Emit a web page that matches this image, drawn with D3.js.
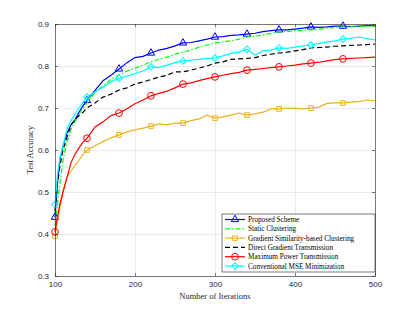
<!DOCTYPE html>
<html>
<head>
<meta charset="utf-8">
<script src="https://cdn.jsdelivr.net/npm/d3@7/dist/d3.min.js"></script>
<style>
  body { margin: 0; background: #fff; }
  .tick text { font-family: "Liberation Sans", Arial, sans-serif; font-size: 8px; fill: #262626; }
</style>
</head>
<body>
<div id="chart"></div>
<script>
const iterations = [100,103,106,110,115,120,125,130,135,140,150,160,170,180,190,200,210,220,230,240,250,260,270,280,290,300,310,320,330,340,350,360,370,380,390,400,410,420,430,440,450,460,470,480,490,500]

const proposed = [0.440,0.520,0.575,0.610,0.640,0.660,0.672,0.690,0.705,0.718,0.742,0.765,0.778,0.793,0.808,0.820,0.823,0.831,0.838,0.842,0.848,0.855,0.856,0.860,0.864,0.869,0.870,0.873,0.874,0.876,0.878,0.882,0.884,0.886,0.886,0.888,0.890,0.893,0.892,0.893,0.895,0.895,0.894,0.895,0.896,0.896]
const staticClustering = [0.420,0.470,0.520,0.575,0.620,0.650,0.668,0.685,0.700,0.712,0.737,0.752,0.768,0.779,0.788,0.795,0.802,0.810,0.816,0.821,0.828,0.833,0.838,0.845,0.850,0.855,0.857,0.860,0.864,0.869,0.871,0.874,0.878,0.881,0.882,0.884,0.885,0.886,0.888,0.890,0.892,0.893,0.893,0.894,0.895,0.895]
const gradSimilarity = [0.395,0.430,0.460,0.500,0.536,0.550,0.563,0.575,0.590,0.600,0.610,0.620,0.629,0.636,0.643,0.648,0.652,0.657,0.662,0.660,0.664,0.664,0.670,0.674,0.683,0.676,0.679,0.683,0.688,0.683,0.686,0.690,0.698,0.698,0.700,0.699,0.698,0.700,0.702,0.711,0.712,0.712,0.714,0.715,0.719,0.717]
const directGradient = [0.455,0.520,0.560,0.600,0.630,0.660,0.672,0.682,0.690,0.700,0.712,0.726,0.733,0.743,0.748,0.757,0.762,0.768,0.774,0.778,0.786,0.786,0.790,0.795,0.800,0.807,0.810,0.816,0.817,0.818,0.820,0.825,0.828,0.831,0.833,0.836,0.839,0.843,0.844,0.845,0.847,0.848,0.849,0.850,0.851,0.852]
const maxPower = [0.405,0.440,0.470,0.500,0.535,0.570,0.590,0.605,0.619,0.628,0.655,0.667,0.682,0.688,0.698,0.710,0.719,0.729,0.735,0.740,0.748,0.757,0.760,0.765,0.770,0.774,0.778,0.782,0.785,0.790,0.792,0.794,0.796,0.798,0.800,0.802,0.805,0.807,0.809,0.812,0.815,0.817,0.818,0.819,0.820,0.821]
const conventionalMse = [0.470,0.540,0.580,0.610,0.650,0.670,0.685,0.700,0.713,0.726,0.738,0.750,0.762,0.771,0.776,0.782,0.788,0.798,0.796,0.802,0.808,0.812,0.814,0.816,0.818,0.819,0.824,0.830,0.833,0.840,0.826,0.836,0.838,0.843,0.842,0.845,0.848,0.850,0.854,0.857,0.860,0.864,0.866,0.869,0.865,0.862]

const markerIterations = [100,140,180,220,260,300,340,380,420,460]
const xTicks = [100,200,300,400,500]
const yTicks = [0.3,0.4,0.5,0.6,0.7,0.8,0.9]

const series = [
    { name: 'Proposed Scheme', values: proposed, color: '#0000ff', dash: null, marker: 'triangle' },
    { name: 'Static Clustering', values: staticClustering, color: '#00ff00', dash: '5,2,1.5,2', marker: null },
    { name: 'Gradient Similarity-based Clustering', values: gradSimilarity, color: '#EDB120', dash: null, marker: 'square' },
    { name: 'Direct Gradient Transmission', values: directGradient, color: '#000000', dash: '5,3', marker: null },
    { name: 'Maximum Power Transmission', values: maxPower, color: '#ff0000', dash: null, marker: 'circle' },
    { name: 'Conventional MSE Minimization', values: conventionalMse, color: '#00ffff', dash: null, marker: 'diamond' }
]

let margin = { top: 24, right: 40, bottom: 36, left: 55 }
let width = 415 - margin.left - margin.right
let height = 312 - margin.top - margin.bottom

let x = d3.scaleLinear().domain([100, 500]).range([0, width])
let y = d3.scaleLinear().domain([0.3, 0.9]).range([height, 0])

let svg = d3.select('#chart').append('svg')
    .attr('width', 415)
    .attr('height', 312)

let g = svg.append('g')
    .attr('transform', `translate(${margin.left},${margin.top})`)

// grid
g.append('g')
    .attr('transform', `translate(0,${height})`)
    .call(d3.axisBottom(x).tickValues(xTicks).tickSize(-height).tickFormat(''))
    .call(s => s.select('.domain').remove())
    .selectAll('line').attr('stroke', '#e3e3e3').attr('stroke-width', 0.7)

g.append('g')
    .call(d3.axisLeft(y).tickValues(yTicks).tickSize(-width).tickFormat(''))
    .call(s => s.select('.domain').remove())
    .selectAll('line').attr('stroke', '#e3e3e3').attr('stroke-width', 0.7)

// lines
let line = d3.line()
    .x((d, i) => x(iterations[i]))
    .y(d => y(d))

function markerPath(type) {
    if (type === 'triangle') return d3.symbol(d3.symbolTriangle, 24)()
    if (type === 'square') return d3.symbol(d3.symbolSquare, 22)()
    if (type === 'circle') return d3.symbol(d3.symbolCircle, 36)()
    if (type === 'diamond') return d3.symbol(d3.symbolSquare, 22)()
    return null
}

function drawMarker(sel, type, color, px, py) {
    sel.append('path')
        .attr('d', markerPath(type))
        .attr('transform', `translate(${px},${py})` + (type === 'diamond' ? ' rotate(45)' : ''))
        .attr('fill', 'none')
        .attr('stroke', color)
        .attr('stroke-width', 1)
}

let plot = g.append('g')

series.forEach(s => {
    plot.append('path')
        .attr('d', line(s.values))
        .attr('fill', 'none')
        .attr('stroke', s.color)
        .attr('stroke-width', 1.2)
        .attr('stroke-dasharray', s.dash)
    if (s.marker) {
        iterations.forEach((it, i) => {
            if (markerIterations.includes(it)) drawMarker(plot, s.marker, s.color, x(it), y(s.values[i]))
        })
    }
})

// axes with inward ticks
let axisColor = '#262626'
let xAxis = g.append('g')
    .attr('transform', `translate(0,${height})`)
    .call(d3.axisBottom(x).tickValues(xTicks).tickSizeInner(-3).tickSizeOuter(0).tickPadding(5))
let yAxis = g.append('g')
    .call(d3.axisLeft(y).tickValues(yTicks).tickFormat(d3.format('.1f')).tickSizeInner(-3).tickSizeOuter(0).tickPadding(6))
let xTop = g.append('g')
    .call(d3.axisTop(x).tickValues(xTicks).tickSizeInner(-3).tickSizeOuter(0).tickFormat(''))
let yRight = g.append('g')
    .attr('transform', `translate(${width},0)`)
    .call(d3.axisRight(y).tickValues(yTicks).tickSizeInner(-3).tickSizeOuter(0).tickFormat(''))

;[xAxis, yAxis, xTop, yRight].forEach(a => {
    a.selectAll('.domain').attr('stroke', axisColor).attr('stroke-width', 0.6)
    a.selectAll('line').attr('stroke', axisColor).attr('stroke-width', 0.6)
})

// axis labels
svg.append('text')
    .attr('x', margin.left + width / 2)
    .attr('y', 299)
    .attr('text-anchor', 'middle')
    .attr('font-family', '"Liberation Serif", "Times New Roman", serif')
    .attr('font-size', 8.5)
    .attr('fill', '#262626')
    .text('Number of Iterations')

svg.append('text')
    .attr('transform', `translate(33,${margin.top + height / 2}) rotate(-90)`)
    .attr('text-anchor', 'middle')
    .attr('font-family', '"Liberation Serif", "Times New Roman", serif')
    .attr('font-size', 8.5)
    .attr('fill', '#262626')
    .text('Test Accuracy')

// legend
let lg = svg.append('g').attr('transform', 'translate(222,214)')
lg.append('rect')
    .attr('width', 153)
    .attr('height', 58)
    .attr('fill', '#fff')
    .attr('stroke', '#262626')
    .attr('stroke-width', 0.6)

series.forEach((s, i) => {
    let ly = 5.5 + i * 9.3
    lg.append('line')
        .attr('x1', 3).attr('x2', 23)
        .attr('y1', ly).attr('y2', ly)
        .attr('stroke', s.color)
        .attr('stroke-width', 1.2)
        .attr('stroke-dasharray', s.dash)
    if (s.marker) drawMarker(lg, s.marker, s.color, 13, ly)
    lg.append('text')
        .attr('x', 26)
        .attr('y', ly)
        .attr('dy', '0.35em')
        .attr('font-family', '"Liberation Serif", "Times New Roman", serif')
        .attr('font-size', 7.2)
        .attr('fill', '#000')
        .text(s.name)
})
</script>
</body>
</html>
